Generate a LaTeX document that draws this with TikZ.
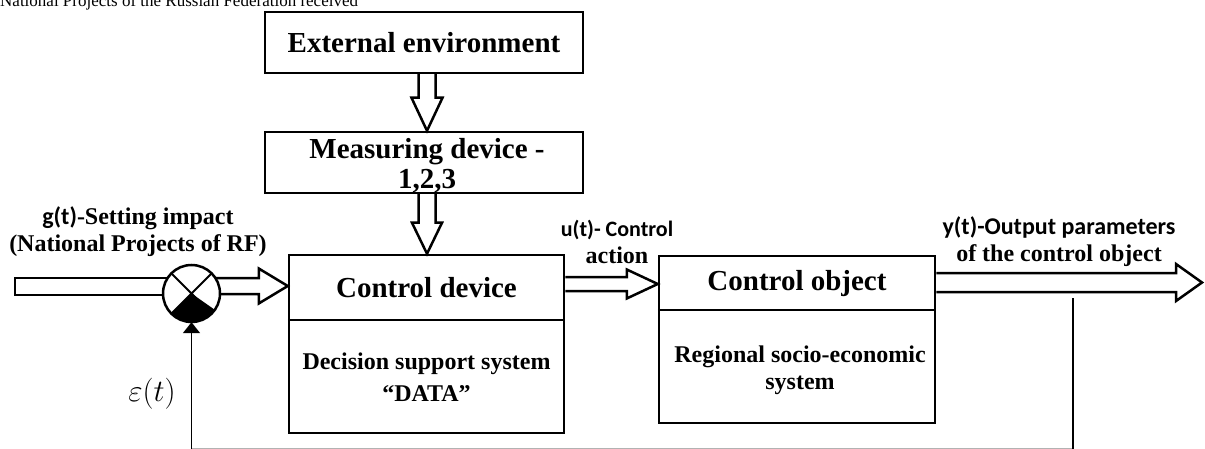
\documentclass[tikz,border=0pt]{standalone}
\usepackage{fontspec}
\setmainfont{Liberation Serif}
\newfontfamily\calfont{Carlito}
\newcommand\cf[1]{{\calfont #1}}
\usetikzlibrary{calc,arrows.meta}
\newcommand\hollowV[5]{%
  \draw[hollow] ($(#1)+(-#3,0)$) -- ($(#2)+(-#3,-#5)$) -- ($(#2)+(-#4,-#5)$) -- (#2)
    -- ($(#2)+(#4,-#5)$) -- ($(#2)+(#3,-#5)$) -- ($(#1)+(#3,0)$);}
\newcommand\hollowH[5]{%
  \draw[hollow] ($(#1)+(0,-#3)$) -- ($(#2)+(-#5,-#3)$) -- ($(#2)+(-#5,-#4)$) -- (#2)
    -- ($(#2)+(-#5,#4)$) -- ($(#2)+(-#5,#3)$) -- ($(#1)+(0,#3)$);}
\begin{document}
\begin{tikzpicture}[x=1pt,y=-1pt,
  box/.style={draw, line width=2.5pt, inner sep=0pt},
  hollow/.style={draw, line width=2.5pt, fill=white, line join=miter},
  fb/.style={line width=1.8pt},
  ttl/.style={font=\fontsize{29}{30}\selectfont\bfseries, align=center},
  sub/.style={font=\fontsize{24}{32}\selectfont\bfseries, align=center},
  lab/.style={font=\fontsize{24}{27}\selectfont\bfseries, align=center, inner sep=0pt}]
\useasboundingbox (0,0) rectangle (1205,449);
% caption cut at top
\node[anchor=base west, font=\fontsize{17}{20}\selectfont, inner sep=0pt] (cap) at (0,7) {National Projects of the Russian Federation received};
% boxes
\node[box, minimum width=318pt, minimum height=61pt] (ee) at (424,42.5) {};
\node[ttl] (eet) at (ee.center) {External environment};
\node[box, minimum width=318pt, minimum height=61pt] (md) at (424,162.5) {};
\node[ttl] (mdt) at (427,166) {Measuring device -\\1,2,3};
\node[box, minimum width=275pt, minimum height=178pt] (cd) at (426.5,344) {};
\draw[line width=2.5pt] (cd.west |- 0,320) coordinate (cdl) -- (cd.east |- 0,320) coordinate (cdr);
\node[ttl] (cdt) at (426.5,287.5) {Control device};
\node[sub] (cds) at (426.5,377) {Decision support system\\“DATA”};
\node[box, minimum width=276pt, minimum height=167pt] (co) at (797,339.5) {};
\draw[line width=2.5pt] (co.west |- 0,310) coordinate (col) -- (co.east |- 0,310) coordinate (cor);
\node[ttl] (cot) at (797,284) {Control object};
\node[sub, font=\fontsize{24}{27}\selectfont\bfseries] (cos) at (800,370) {Regional socio-economic\\system};
% vertical hollow arrows
\coordinate (vx) at (427,0);
\coordinate (a1) at (ee.south -| vx);
\coordinate (a2) at (md.north -| vx);
\hollowV{a1}{a2}{8.5}{15.5}{33}
\coordinate (b1) at (md.south -| vx);
\coordinate (b2) at (cd.north -| vx);
\hollowV{b1}{b2}{8.5}{15}{31}
% summing junction input
\coordinate (in0) at (15,286.5);
\coordinate (sc) at (191.5,293.5);
\draw[hollow] (in0 |- 0,278) rectangle (sc |- 0,295);
\coordinate (c0) at (sc |- 0,286);
\coordinate (c1) at (cd.west |- 0,286);
\hollowH{c0}{c1}{8}{17.5}{29}
\node[circle, fill=white, minimum size=57pt, inner sep=0pt] (sum) at (sc) {};
\begin{scope}
  \clip (sum.center) circle[radius=28.5pt];
  \fill (sum.center) -- ++(-45,45) -- ++(0,20) -- ++(95,0) -- ++(0,-30) -- cycle;
\end{scope}
\draw[line width=2pt] (sum.45) -- (sum.225) (sum.135) -- (sum.315);
\draw[line width=2.5pt] (sum.center) circle[radius=28.5pt];
% u(t)
\coordinate (u0) at (cd.east |- 0,284);
\coordinate (u1) at (co.west |- 0,284);
\hollowH{u0}{u1}{7}{14.5}{31}
% y(t)
\coordinate (y0) at (co.east |- 0,282.5);
\coordinate (y1) at (1202,282.5);
\hollowH{y0}{y1}{9.5}{18.5}{26}
% feedback
\coordinate (tap) at (1073,298);
\coordinate (fbr) at (1073,448.5);
\coordinate (fbl) at (191.5,448.5);
\draw[black!30, line width=1.2pt] (fbr) -- (fbl);
\draw[fb] (tap) -- (fbr) -- ++(0,3);
\draw[fb, -{Triangle[width=17pt,length=11pt]}] ($(fbl)+(0,3)$) -- (fbl) -- (sum.south);
% labels
\node[lab] (gl) at (138,232) {\cf{g(t)}{\rmfamily -Setting impact}\\(National Projects of RF)};
\node[lab] (ul) at (617,242) {\cf{\fontsize{22}{27}\selectfont u(t)- Control}\\action};
\node[lab] (yl) at (1059,242) {\cf{y(t)-Output parameters}\\of the control object};
\node[inner sep=0pt, font=\fontsize{24}{28}\selectfont] (eps) at (152,394) {\scalebox{1.25}{$\varepsilon(t)$}};
\end{tikzpicture}
\end{document}
